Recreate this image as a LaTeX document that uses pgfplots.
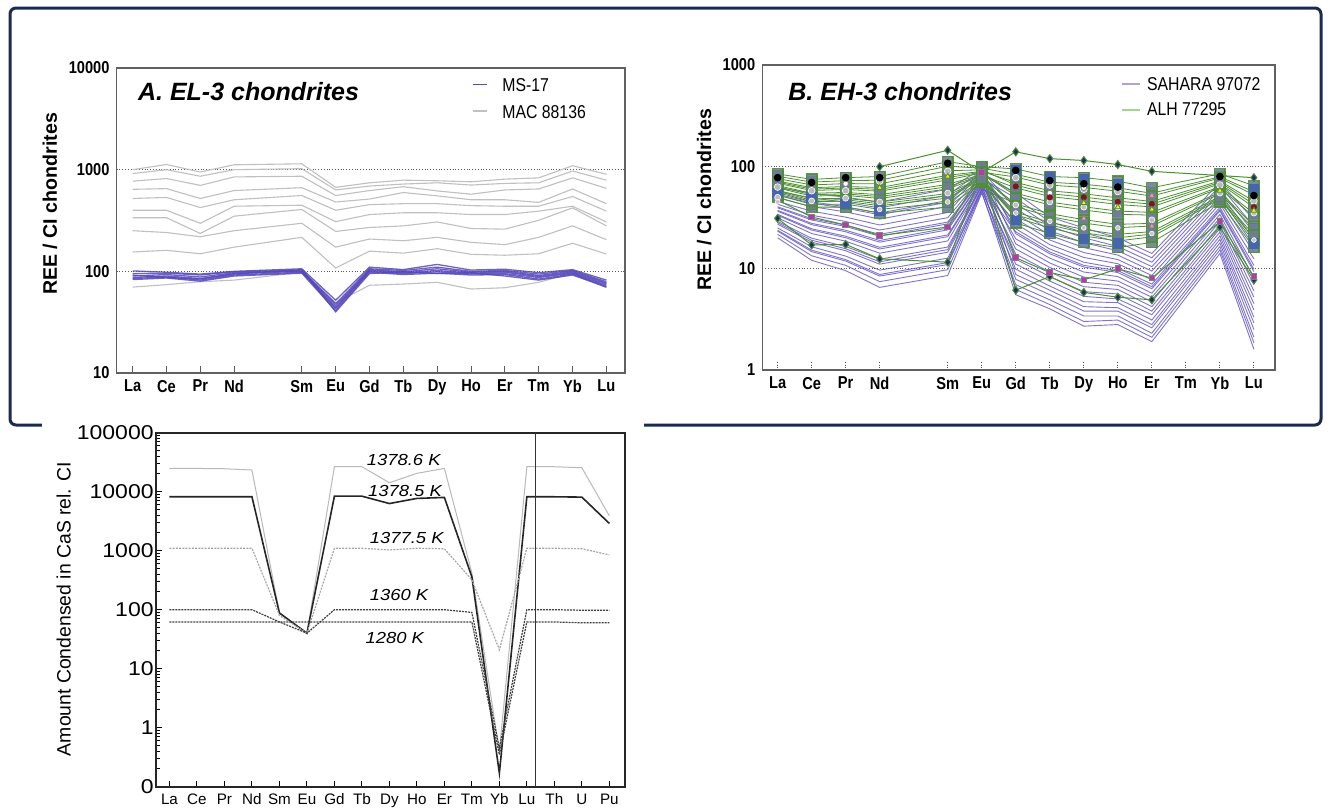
\documentclass[border=0pt]{standalone}
\usepackage{fontspec}
\setmainfont{Liberation Sans}
\newfontfamily\condfont[FakeStretch=0.85]{Liberation Sans}
\newfontfamily\widefont[FakeStretch=1.15]{Liberation Sans}
\newcommand\cyt{\widefont\fontsize{10}{11}\selectfont}
\usepackage{pgfplots}
\usepackage{pgfplotstable}
\pgfplotsset{compat=1.18}

\definecolor{framec}{RGB}{28,42,78}
\definecolor{purA}{RGB}{85,72,185}
\definecolor{grayA}{RGB}{192,192,192}
\definecolor{purB}{RGB}{95,82,190}
\definecolor{greenB}{RGB}{75,145,45}
\definecolor{legpur}{RGB}{170,165,215}
\definecolor{leggreen}{RGB}{160,215,140}
\definecolor{colfill}{RGB}{110,125,150}
\definecolor{colblue}{RGB}{70,100,175}
\definecolor{dianavy}{RGB}{35,45,110}
\definecolor{magsq}{RGB}{180,60,170}
\definecolor{darkred}{RGB}{130,20,20}

% panel A: MAC 88136 (g) and MS-17 (m)
\pgfplotstableread{
x  g1   g2   g3  g4  g5  g6  g7  g8  g9  g10 m1  m2  m3  m4  m5  m6  m7
1  1000 915  771 641 521 399 337 251 155 70  101 95  90  87  85  83  92
2  1125 1000 818 651 533 399 337 241 161 74  98  96  93  90  88  86  87
3  949  862  701 521 424 297 236 219 149 79  94  92  88  85  82  80  84
4  1117 1000 849 623 506 437 349 251 173 82  100 99  97  95  92  90  94
6  1143 1023 862 665 557 447 406 297 216 98  106 103 101 100 98  96  104
7  670  632  557 481 399 308 247 173 108 49  52  48  46  44  43  41  40
8  743  690  623 514 453 362 270 208 158 73  110 106 104 102 100 98  95
9  789  722  680 596 463 377 280 200 151 75  104 102 99  97  95  93  99
10 778  743  618 553 463 377 306 216 167 78  117 110 106 102 99  96  95
11 760  706  574 506 443 362 264 193 147 67  103 100 98  96  94  92  97
12 807  733  632 506 437 362 260 183 144 69  105 102 100 98  95  93  90
13 831  743  646 477 437 391 318 216 149 78  97  94  91  89  87  84  82
14 1093 970  831 646 545 437 421 280 189 96  104 102 100 98  96  94  92
15 902  789  656 463 391 306 280 205 148 69  82  79  77  75  73  71  70
}\tabA

% panel B: SAHARA 97072
\pgfplotstableread{
x  p1   p2   p3   p4   p5   p6   p7   p8   p9   p10  p11  p12  p13  p14  p15  p16  p17  p18  p19  p20  p21  p22
1  20   21.6 23.2 25   27.2 29   31.4 34   36.4 39.4 42.7 45.6 49.4 53.5 57.3 62   33.3 40.3 28.1 23.7 52.2 37.2
2  12   13.3 14.6 16.3 18.1 19.8 22   24.5 26.9 29.9 33.3 36.5 40.5 45.1 49.4 55   23.8 30.8 18.9 15.1 43.8 27.7
3  9.5  10.7 11.8 13.2 14.9 16.4 18.5 20.7 22.9 25.8 28.9 31.9 35.9 40.3 44.6 50   20   26.6 15.6 12.2 39   23.7
4  6.5  7.4  8.4  9.6  11   12.3 14.1 16.1 18.1 20.7 23.8 26.7 30.5 35   39.3 45   15.5 21.6 11.6 8.7  33.7 18.8
6  8.5  9.7  10.9 12.6 14.4 16.2 18.6 21.3 23.9 27.4 31.5 35.4 40.6 46.5 52.4 60   20.5 28.5 15.3 11.4 44.7 24.9
7  55   57   59   61   64   66   68   71   73   76   79   82   85   88   91   95   70   77   65   60   87   74
8  6.9  5.5  9.8  7.8  12.3 6.2  15.5 11   19.5 13.8 24.5 8.7  30.9 17.4 38.9 21.9 27.5 49   22.9 43.7 55   34.7
9  4.9  4.0  6.7  5.5  8.3  4.4  10.2 7.5  12.6 9.2  15.5 6.1  19   11.3 23.4 13.9 17.1 28.8 14.5 26   32   21.1
10 3.4  2.7  4.7  3.8  5.9  3.0  7.3  5.3  9.2  6.6  11.5 4.2  14.3 8.2  17.9 10.3 12.8 22.4 10.7 20   25   16
11 3.4  2.8  4.6  3.8  5.6  3.1  6.8  5.0  8.3  6.2  10   4.1  12.2 7.5  14.9 9.1  11.1 18.1 9.5  16.4 20   13.5
12 2.3  1.9  3.1  2.6  3.8  2.1  4.7  3.5  5.7  4.2  7.0  2.8  8.5  5.2  10.4 6.3  7.7  12.7 6.6  11.5 14   9.4
14 16.4 14   20.9 17.8 24.6 15.2 28.9 22.7 33.9 26.7 39.8 19.3 46.8 31.3 55   36.7 43.2 64.6 37.9 59.6 70   50.7
15 2.1  1.6  3.3  2.5  4.5  1.85 6.0  3.9  8.0  5.2  10.7 2.9  14.4 6.9  19.3 9.3  12.4 25.9 9.8  22.4 30   16.7
}\tabBp

% panel B: ALH 77295
\pgfplotstableread{
x  q1 q2   q3   q4   q5   q6   q7   q8   q9   q10  q11 q12  q13  q14
1  50 52.7 55.6 58.6 61.8 65.2 68.7 72.4 76.4 80.5 85  63.5 70.6 57.1
2  40 42.6 45.4 48.3 51.4 54.8 58.3 62.1 66.1 70.5 75  53.1 60.1 46.8
3  40 42.8 45.7 48.9 52.2 55.8 59.7 63.8 68.2 72.9 78  54   61.8 47.3
4  35 38   41.3 44.9 48.7 53   57.4 62.4 67.8 73.6 80  50.8 59.8 43.1
6  40 44.4 49.1 54.5 60.4 67   74.1 82.2 91.2 101  112 63.5 78.2 51.8
7  70 72.6 75.2 78   80.7 83.7 86.7 89.9 93.1 96.6 100 82.2 88.3 76.6
8  28 33.6 31.6 43   40.4 54.8 51.6 70   65.9 84.1 95  61.9 79.1 35.7
9  22 26.7 25   34.5 32.4 44.8 42   57.9 54.3 70.3 80  50.9 65.9 28.4
10 18 22.4 20.8 30.1 27.9 40.3 37.5 54.1 50.2 67.3 78  46.7 62.5 24.1
11 16 20   18.6 27.1 25.1 36.6 34   49.4 45.8 61.9 72  42.5 57.4 21.6
12 18 21.7 20.4 27.7 26.1 35.5 33.4 45.5 42.8 54.7 62  40.2 51.4 23
14 45 49.4 48   56.2 54.4 63.8 61.8 72.4 70.2 79.6 85  67.9 77.3 51.1
15 16 19.7 18.4 26.1 24.4 34.6 32.3 45.8 42.7 56.5 65  39.8 52.7 21.2
}\tabBq

% panel C: condensation curves
\pgfplotstableread{
x  a     b     c    d    e
1  24800 8200  1100 100  62
2  24800 8200  1100 100  62
3  24500 8200  1100 100  62
4  23300 8200  1100 100  62
5  88    88    80   62   62
6  40    40    40   40   62
7  26500 8400  1100 100  62
8  26500 8400  1100 100  62
9  14200 6300  1030 100  62
10 20500 7700  1100 100  62
11 24800 8000  1080 100  62
12 420   360   320  90   62
13 0.4   0.17  21   0.45 0.35
14 26500 8200  1100 100  62
15 26500 8200  1100 100  62
16 25500 8100  1080 98   60
17 3900  2900  850  98   60
}\tabC

\begin{document}
\begin{tikzpicture}
\useasboundingbox (0,0) rectangle (664pt,-405pt);
\fill[white] (0,0) rectangle (664pt,-405pt);
\draw[framec, line width=1.5pt, rounded corners=3pt] (5pt,-4pt) rectangle (660.5pt,-212.5pt);

% ---------------- panel A
\begin{axis}[
  at={(58.25pt,-186.5pt)}, anchor=south west,
  scale only axis, width=254.25pt, height=152.5pt,
  ymode=log, ymin=10, ymax=10000,
  xmin=0.524, xmax=15.55,
  xtick={1,2,3,4,6,7,8,9,10,11,12,13,14,15},
  xticklabels={La,Ce,Pr,Nd,Sm,Eu,Gd,Tb,Dy,Ho,Er,Tm,Yb,Lu},
  ytick={10,100,1000,10000},
  yticklabels={10,100,1000,10000},
  extra y ticks={100,1000}, extra y tick labels={},
  extra y tick style={grid=major, major tick length=0pt},
  grid style={black!65, densely dotted, line width=0.5pt},
  xtick pos=left, ytick pos=left, tick align=inside,
  major tick length=3.5pt,
  xtick style={gray!70!black, line width=0.5pt},
  ytick style={draw=none}, minor y tick style={draw=none},
  axis line style={gray!75!black, line width=0.7pt},
  tick label style={font=\condfont\bfseries\fontsize{8.6}{9}\selectfont},
]
\pgfplotsinvokeforeach{1,...,10}{\addplot[grayA, line width=0.55pt] table[x=x,y=g#1]{\tabA};}
\pgfplotsinvokeforeach{1,...,7}{\addplot[purA, line width=0.65pt, opacity=0.85] table[x=x,y=m#1]{\tabA};}
\end{axis}
\node[rotate=90, font=\bfseries\fontsize{9.8}{11}\selectfont] at (25pt,-102pt) {REE / CI chondrites};
\node[anchor=base west, inner sep=0pt, font=\bfseries\itshape\fontsize{12.5}{14}\selectfont] at (68.85pt,-50pt) {A. EL-3 chondrites};
\draw[purA, line width=0.6pt] (236.25pt,-42.15pt) -- (243.5pt,-42.15pt);
\draw[grayA, line width=0.6pt] (236.25pt,-55.5pt) -- (243.5pt,-55.5pt);
\node[anchor=base west, inner sep=0pt, font=\condfont\fontsize{9.3}{11}\selectfont] at (251pt,-45.8pt) {MS-17};
\node[anchor=base west, inner sep=0pt, font=\condfont\fontsize{9.3}{11}\selectfont] at (251pt,-59.2pt) {MAC 88136};

% ---------------- panel B
\begin{axis}[
  at={(381.15pt,-185pt)}, anchor=south west,
  scale only axis, width=256.35pt, height=152.5pt,
  ymode=log, ymin=1, ymax=1000,
  xmin=0.55, xmax=15.62,
  xtick={1,2,3,4,6,7,8,9,10,11,12,13,14,15},
  xticklabels={La,Ce,Pr,Nd,Sm,Eu,Gd,Tb,Dy,Ho,Er,Tm,Yb,Lu},
  ytick={1,10,100,1000},
  yticklabels={1,10,100,1000},
  extra y ticks={10,100}, extra y tick labels={},
  extra y tick style={grid=major, major tick length=0pt},
  grid style={black!65, densely dotted, line width=0.5pt},
  xtick pos=left, ytick pos=left, tick align=inside,
  major tick length=4pt,
  xtick style={black!70, densely dotted, line width=0.5pt},
  ytick style={draw=none}, minor y tick style={draw=none},
  axis line style={gray!75!black, line width=0.7pt},
  tick label style={font=\condfont\bfseries\fontsize{8.6}{9}\selectfont},
]
\pgfplotsinvokeforeach{1,...,22}{\addplot[purB, line width=0.45pt, opacity=0.8] table[x=x,y=p#1]{\tabBp};}
\pgfplotsinvokeforeach{1,...,14}{\addplot[greenB, line width=0.4pt, mark=square*, mark size=2.6pt,
   mark options={fill=colfill, draw=greenB, line width=0.7pt, opacity=0.9}] table[x=x,y=q#1]{\tabBq};}
\addplot[only marks, mark=square*, mark size=2.4pt, mark options={fill=colblue, draw=colblue}]
  coordinates {(1,55) (2,50) (3,43) (4,37) (8,92) (9,78) (10,75) (11,68) (8,30) (9,23) (10,19.5) (11,17.5) (15,60) (15,17.5)};
\addplot[greenB, line width=0.5pt, mark=diamond*, mark size=2pt, mark options={fill=dianavy, draw=greenB}]
  coordinates {(4,100) (6,145) (7,88) (8,140) (9,120) (10,115) (11,105) (12,90) (15,78)};
\addplot[greenB, line width=0.5pt, mark=diamond*, mark size=2pt, mark options={fill=dianavy, draw=greenB}]
  coordinates {(1,31) (2,17) (3,17.2) (4,12.4) (6,11.5) (7,90) (8,6.1) (9,8.3) (10,5.8) (11,5.2) (12,4.9) (14,25.4) (15,7.7)};
\addplot[greenB, line width=0.5pt, mark=square*, mark size=1.4pt, mark options={fill=magsq, draw=gray}]
  coordinates {(1,47) (2,32) (3,26.7) (4,21) (6,25.5) (7,88) (8,12.7) (9,9.1) (10,7.7) (11,9.9) (12,8) (14,28.8) (15,8.3)};
\addplot[only marks, mark=*, mark size=1.7pt, mark options={fill=gray!55, draw=white, line width=0.3pt}]
  coordinates {(1,63) (2,58) (3,58) (4,72) (6,90) (8,78) (9,66) (10,60) (11,57) (14,66) (15,46)};
\addplot[only marks, mark=*, mark size=1.5pt, mark options={fill=gray!50, draw=white, line width=0.3pt}]
  coordinates {(1,50) (2,46) (3,49) (4,45) (6,55) (8,42) (9,45) (10,40) (11,40) (12,30) (14,55) (15,35)};
\addplot[only marks, mark=*, mark size=1.2pt, mark options={fill=gray!45, draw=white, line width=0.3pt}]
  coordinates {(1,45) (4,38) (6,45) (8,35) (9,29) (10,25) (11,25) (12,22) (15,19)};
\addplot[only marks, mark=*, mark size=1.4pt, mark options={fill=white, draw=gray}]
  coordinates {(3,68) (9,55) (10,62)};
\addplot[only marks, mark=*, mark size=1.3pt, mark options={fill=darkred, draw=darkred}]
  coordinates {(8,64) (9,50) (10,50) (11,45) (12,43) (15,40)};
\addplot[only marks, mark=triangle*, mark size=1.6pt, mark options={fill=yellow, draw=greenB}]
  coordinates {(4,62) (6,80) (10,44) (11,40) (12,38) (14,58) (15,37)};
\addplot[only marks, mark=triangle*, mark size=1.6pt, mark options={fill=pink!80!red, draw=gray}]
  coordinates {(10,31) (12,26) (12,52)};
\addplot[only marks, mark=*, mark size=1.7pt, mark options={fill=black, draw=black}]
  coordinates {(1,78) (2,70) (3,78) (4,78) (6,108) (8,92) (9,73) (10,68) (11,63) (14,80) (15,52)};
\end{axis}
\node[rotate=90, font=\bfseries\fontsize{9.8}{11}\selectfont] at (352.15pt,-100pt) {REE / CI chondrites};
\node[anchor=base west, inner sep=0pt, font=\bfseries\itshape\fontsize{12.5}{14}\selectfont] at (394pt,-50pt) {B. EH-3 chondrites};
\draw[legpur, line width=0.6pt] (560.85pt,-42pt) -- (570pt,-42pt);
\draw[leggreen, line width=0.6pt] (560.85pt,-55pt) -- (570pt,-55pt);
\node[anchor=base west, inner sep=0pt, font=\condfont\fontsize{9.3}{11}\selectfont] at (573.35pt,-45.35pt) {SAHARA 97072};
\node[anchor=base west, inner sep=0pt, font=\condfont\fontsize{9.3}{11}\selectfont] at (573.35pt,-57.5pt) {ALH 77295};

% ---------------- panel C
\fill[white] (21pt,-209pt) rectangle (322pt,-405pt);
\begin{axis}[
  at={(78pt,-393.35pt)}, anchor=south west,
  scale only axis, width=234.5pt, height=177pt,
  ymode=log, ymin=0.1, ymax=100000,
  xmin=0.51, xmax=17.57,
  xtick={1,...,17},
  xticklabels={La,Ce,Pr,Nd,Sm,Eu,Gd,Tb,Dy,Ho,Er,Tm,Yb,Lu,Th,U,Pu},
  ytick={0.1,1,10,100,1000,10000,100000},
  yticklabels={{\cyt 0},{\cyt 1},{\cyt 10},{\cyt 100},{\cyt 1000},{\cyt 10000},{\cyt 100000}},
  minor ytick={0.2,0.3,0.4,0.5,0.6,0.7,0.8,0.9,2,3,4,5,6,7,8,9,20,30,40,50,60,70,80,90,
    200,300,400,500,600,700,800,900,2000,3000,4000,5000,6000,7000,8000,9000,
    20000,30000,40000,50000,60000,70000,80000,90000},
  xtick pos=left, ytick pos=left, tick align=inside,
  major tick length=3pt, minor tick length=1.8pt,
  tick style={black, line width=0.5pt},
  axis line style={black!85, line width=0.8pt},
  xticklabel style={font=\fontsize{7.6}{8}\selectfont},
  yticklabel style={inner sep=1pt},
]
\addplot[gray!55, line width=0.5pt] table[x=x,y=a]{\tabC};
\addplot[black!85, line width=0.8pt] table[x=x,y=b]{\tabC};
\addplot[gray!70, line width=0.6pt, dash pattern=on 1pt off 0.6pt] table[x=x,y=c]{\tabC};
\addplot[black!75, line width=0.6pt, dash pattern=on 1pt off 0.5pt] table[x=x,y=d]{\tabC};
\addplot[black!75, line width=0.6pt, dash pattern=on 1pt off 0.5pt] table[x=x,y=e]{\tabC};
\addplot[black!80, line width=0.5pt] coordinates {(14.33,0.1) (14.33,100000)};
\end{axis}
\node[rotate=90, font=\fontsize{9.7}{11}\selectfont] at (31.8pt,-304.5pt) {Amount Condensed in CaS rel. CI};
\begin{scope}[every node/.style={anchor=base west, inner sep=0pt, font=\widefont\itshape\fontsize{8}{9}\selectfont}]
\node at (183.25pt,-232.5pt) {1378.6 K};
\node at (183.9pt,-248pt) {1378.5 K};
\node at (184.75pt,-271.7pt) {1377.5 K};
\node at (184.75pt,-300pt) {1360 K};
\node at (182.65pt,-321.7pt) {1280 K};
\end{scope}
\end{tikzpicture}
\end{document}
